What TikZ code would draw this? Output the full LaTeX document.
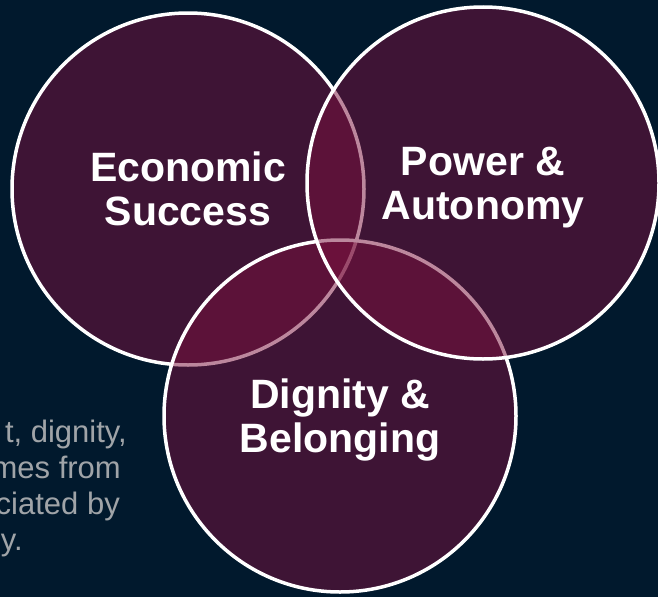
\documentclass[tikz,border=0pt]{standalone}
\usepackage{fontspec}
\setmainfont{Liberation Sans}
\definecolor{navy}{RGB}{1,25,45}
\definecolor{plum}{RGB}{123,17,61}
\definecolor{greytext}{RGB}{160,164,168}
\newcommand{\nodepth}[1]{\raisebox{0pt}[\height][0pt]{#1}}
\tikzset{
  venn/.style={shape=circle, draw=white, line width=3.5pt, fill=plum, fill opacity=0.5,
    text opacity=1, text=white, minimum size=352pt, inner sep=0pt, align=center,
    font=\fontsize{41}{44}\selectfont\bfseries},
  note/.style={anchor=base east, text=greytext, inner sep=0pt, font=\fontsize{31}{36}\selectfont}
}
\begin{document}
\begin{tikzpicture}[x=1pt, y=-1pt]
    \fill[navy] (0,0) rectangle (658,597);
    \useasboundingbox (0,0) rectangle (658,597);
    \node[venn] (econ) at (188,189) {Economic\\Success};
    \node[venn] (dign) at (340,416) {Dignity \&\\\nodepth{Belonging}};
    \node[venn] (power) at (483,183) {Power \&\\\nodepth{Autonomy}};
    \node[note] (l1) at (127,442) {t, dignity,};
    \node[note] (l2) at (121,478) {mes from};
    \node[note] (l3) at (120,514) {ciated by};
    \node[note] (l4) at (23,550) {y.};
\end{tikzpicture}
\end{document}
